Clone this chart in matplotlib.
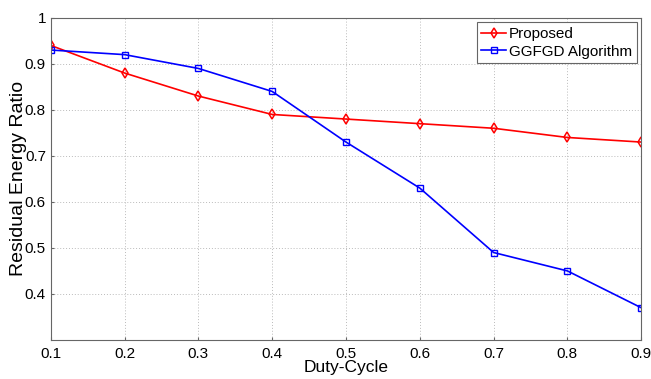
import matplotlib
matplotlib.use("Agg")
import matplotlib.pyplot as plt

duty_cycle = [0.1, 0.2, 0.3, 0.4, 0.5, 0.6, 0.7, 0.8, 0.9]
proposed = [0.94, 0.88, 0.83, 0.79, 0.78, 0.77, 0.76, 0.74, 0.73]
ggfgd = [0.93, 0.92, 0.89, 0.84, 0.73, 0.63, 0.49, 0.45, 0.37]
y_ticks = [0.4, 0.5, 0.6, 0.7, 0.8, 0.9, 1.0]
y_labels = ["0.4", "0.5", "0.6", "0.7", "0.8", "0.9", "1"]


def main():
    plt.rcParams["font.family"] = ["Liberation Sans", "DejaVu Sans"]

    fig = plt.figure(figsize=(6.51, 3.79), dpi=100)
    ax = fig.add_axes([0.078, 0.103, 0.907, 0.85])

    ax.plot(duty_cycle, proposed, color="red", marker="d", markersize=5,
            markerfacecolor="none", markeredgewidth=1.1, linewidth=1.2,
            label="Proposed")
    ax.plot(duty_cycle, ggfgd, color="blue", marker="s", markersize=5,
            markerfacecolor="none", markeredgewidth=1.0, linewidth=1.2,
            label="GGFGD Algorithm")

    ax.set_xlim(0.1, 0.9)
    ax.set_ylim(0.3, 1.0)
    ax.set_xticks(duty_cycle)
    ax.set_xticklabels([f"{v:g}" for v in duty_cycle])
    ax.set_yticks(y_ticks)
    ax.set_yticklabels(y_labels)
    ax.tick_params(labelsize=11, direction="in", length=2, color="#666666")
    ax.tick_params(axis="x", pad=5)

    ax.grid(True, linestyle=(0, (1, 2)), color="#bbbbbb", linewidth=0.7)
    for spine in ax.spines.values():
        spine.set_color("#666666")

    ax.set_xlabel("Duty-Cycle", fontsize=12.5, labelpad=-1)
    ax.set_ylabel("Residual Energy Ratio", fontsize=14)
    ax.yaxis.set_label_coords(-0.041, 0.5)

    leg = ax.legend(loc="upper right", fontsize=11, fancybox=False,
                    framealpha=1, edgecolor="#666666", handlelength=1.6,
                    handletextpad=0.2, borderpad=0.3, labelspacing=0.25,
                    borderaxespad=0.3)
    leg.get_frame().set_linewidth(0.8)

    fig.savefig("out.png", dpi=100)


if __name__ == "__main__":
    main()
